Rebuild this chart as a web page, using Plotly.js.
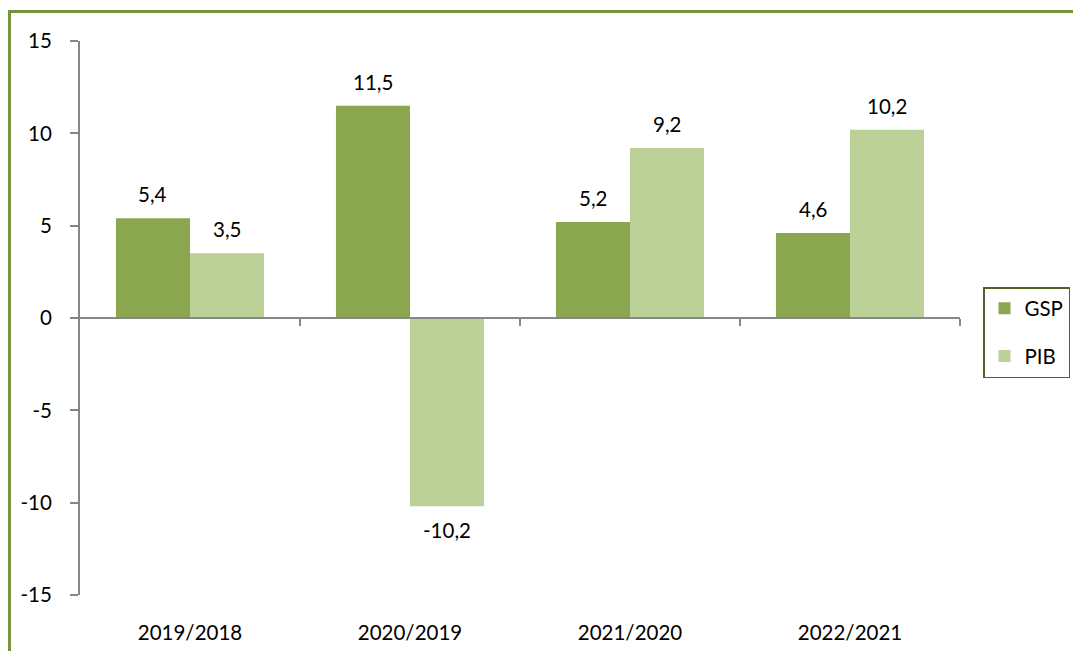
<!DOCTYPE html>
<html>
<head>
<meta charset="utf-8">
<script src="https://cdn.plot.ly/plotly-3.0.1.min.js"></script>
<style>
  html, body { margin: 0; padding: 0; background: #ffffff; }
  #wrap { position: relative; width: 1073px; height: 651px; overflow: hidden; }
  #chart { position: absolute; left: 0; top: 0; width: 1073px; height: 651px; }
  #frame { position: absolute; left: 8px; top: 10px; width: 1100px; height: 700px;
           border-top: 3px solid #77933c; border-left: 3px solid #77933c; pointer-events: none; }
</style>
</head>
<body>
<div id="wrap">
  <div id="chart"></div>
  <div id="frame"></div>
</div>
<script>
const categories = ['2019/2018', '2020/2019', '2021/2020', '2022/2021'];
const gspValues = [5.4, 11.5, 5.2, 4.6];
const pibValues = [3.5, -10.2, 9.2, 10.2];
const seriesNames = ['GSP', 'PIB'];
const yTickValues = [-15, -10, -5, 0, 5, 10, 15];

const colGSP = '#8aa64e';
const colPIB = '#bbd197';
const axisCol = '#868686';
const FONT = 'Lato, "Open Sans", sans-serif';
const FS = 20.5;

const fmt = v => v.toFixed(1).replace('.', ',');
const yTickText = yTickValues.map(v => String(v));

const W = 1073, H = 651;
const M = { l: 80, r: 113, t: 41, b: 56, autoexpand: false };
const bargap = 0.327;
const plotW = W - M.l - M.r;
const catW = plotW / categories.length;
const barW = catW * (1 - bargap) / 2;

const traces = [
  { type: 'bar', name: seriesNames[0], x: categories, y: gspValues,
    marker: { color: colGSP }, legendgroup: 'g1', hoverinfo: 'skip' },
  { type: 'bar', name: seriesNames[1], x: categories, y: pibValues,
    marker: { color: colPIB }, legendgroup: 'g2', hoverinfo: 'skip' },
  { type: 'scatter', mode: 'none', x: [], y: [], xaxis: 'x2', yaxis: 'y',
    showlegend: false, hoverinfo: 'skip' }
];

const annotations = [];
[gspValues, pibValues].forEach((vals, si) => {
  vals.forEach((v, i) => {
    annotations.push({
      x: categories[i], y: v, xref: 'x', yref: 'y',
      text: fmt(v), showarrow: false,
      xshift: (si === 0 ? -1 : 1) * barW / 2,
      yshift: v >= 0 ? 24 : -24,
      font: { family: FONT, size: FS, color: '#000000' }
    });
  });
});

const layout = {
  width: W, height: H,
  margin: M,
  paper_bgcolor: '#ffffff', plot_bgcolor: '#ffffff',
  barmode: 'group', bargap: bargap, bargroupgap: 0,
  font: { family: FONT, size: FS, color: '#000000' },
  showlegend: true,
  legend: {
    x: (1070 - M.l) / plotW, xanchor: 'right',
    y: (H - M.b - 287) / (H - M.t - M.b), yanchor: 'top',
    bordercolor: '#4f6228', borderwidth: 1.5, bgcolor: '#ffffff',
    traceorder: 'grouped', tracegroupgap: 18,
    font: { family: FONT, size: FS, color: '#000000' }
  },
  xaxis: {
    type: 'category', categoryorder: 'array', categoryarray: categories,
    range: [-0.5, categories.length - 0.5],
    showline: false, showgrid: false, zeroline: false,
    ticks: 'outside', ticklen: 19, tickcolor: 'rgba(0,0,0,0)',
    tickfont: { family: FONT, size: FS, color: '#000000' }
  },
  xaxis2: {
    overlaying: 'x', anchor: 'free', position: 0.5,
    range: [-0.5, categories.length - 0.5],
    tickmode: 'array', tickvals: categories.map((c, i) => i + 0.5),
    showticklabels: false, showgrid: false, zeroline: false,
    showline: true, linecolor: axisCol, linewidth: 2,
    ticks: 'outside', ticklen: 7, tickwidth: 2, tickcolor: axisCol
  },
  yaxis: {
    range: [-15, 15],
    tickmode: 'array', tickvals: yTickValues, ticktext: yTickText,
    showgrid: false, zeroline: false,
    showline: true, linecolor: axisCol, linewidth: 2,
    ticks: 'outside', ticklen: 8, tickwidth: 2, tickcolor: axisCol,
    ticklabelstandoff: 14,
    tickfont: { family: FONT, size: FS, color: '#000000' }
  },
  annotations: annotations
};

Plotly.newPlot('chart', traces, layout, { displayModeBar: false, staticPlot: true });
</script>
</body>
</html>
